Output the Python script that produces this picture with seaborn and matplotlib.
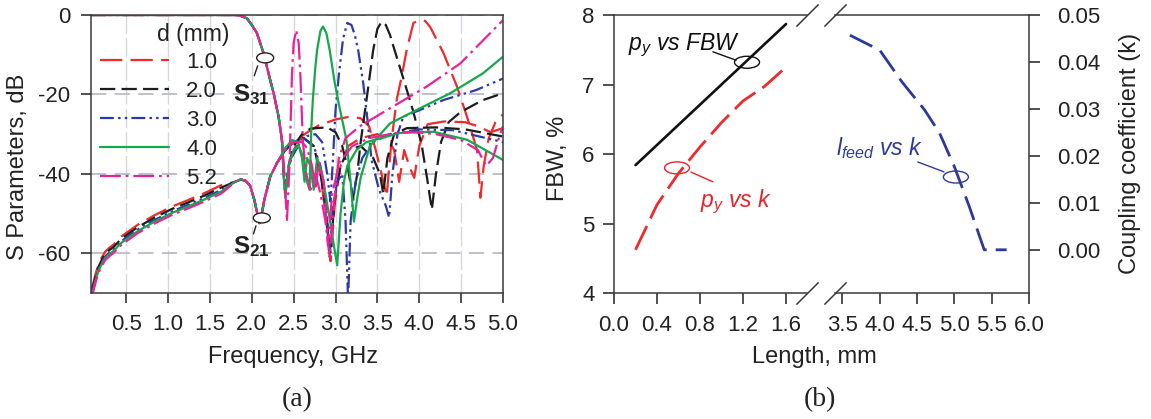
import matplotlib
matplotlib.use('Agg')
import matplotlib.pyplot as plt
import matplotlib.transforms as mtransforms
from matplotlib.patches import Ellipse
import seaborn as sns

sns.set_theme(style='ticks')
plt.rcParams['font.family'] = ['Liberation Sans', 'DejaVu Sans']
plt.rcParams['axes.unicode_minus'] = False
plt.rcParams['lines.scale_dashes'] = False
plt.rcParams['mathtext.fontset'] = 'custom'
plt.rcParams['mathtext.rm'] = 'Liberation Sans'
plt.rcParams['mathtext.it'] = 'Liberation Sans:italic'
plt.rcParams['mathtext.bf'] = 'Liberation Sans:bold'

# ---------------- data, panel (a) ----------------
d_values = ['1.0', '2.0', '3.0', '4.0', '5.2']

# S31: shared part (all d lie on top of each other)
s31_common_f = [0.08, 1.0, 1.80, 1.86, 1.94, 2.00, 2.06, 2.10, 2.14, 2.18, 2.22, 2.26, 2.32, 2.36]
s31_common_db = [0, 0, 0, -0.2, -0.8, -2.5, -4.5, -7.0, -9.6, -13.0, -16.4, -19.6, -25.6, -31.4]

s31_tail_10 = [(2.38, -40), (2.40, -45), (2.44, -38), (2.50, -34), (2.60, -30.5), (2.70, -29), (2.80, -27.8),
               (3.00, -26.3), (3.17, -25.6), (3.30, -26), (3.40, -28), (3.48, -34), (3.55, -40), (3.61, -45.7),
               (3.67, -31.4), (3.73, -21.4), (3.79, -15.5), (3.85, -8.8), (3.93, -2), (4.01, -1.2), (4.07, -1.5),
               (4.13, -3), (4.29, -9.6), (4.45, -18), (4.57, -25.6), (4.69, -34), (4.73, -46), (4.77, -38),
               (4.83, -31), (4.91, -27), (5.0, -25)]
s31_tail_20 = [(2.38, -40), (2.40, -45), (2.44, -38), (2.50, -33), (2.60, -30), (2.70, -28.6), (2.90, -28.3),
               (3.00, -29.5), (3.08, -33), (3.15, -39), (3.21, -46), (3.26, -40), (3.30, -32), (3.37, -21.4),
               (3.45, -8.8), (3.50, -3.5), (3.55, -1.7), (3.60, -2.5), (3.65, -5), (3.69, -7.8), (3.81, -16),
               (3.93, -24.4), (4.03, -32.8), (4.10, -42), (4.15, -49), (4.20, -40), (4.26, -32), (4.35, -27),
               (4.49, -24.5), (4.75, -21.5), (5.0, -19.7)]
s31_tail_30 = [(2.38, -40), (2.40, -45), (2.44, -38), (2.50, -35), (2.58, -32), (2.66, -30.5), (2.76, -30),
               (2.84, -32), (2.90, -40), (2.94, -47), (2.97, -36), (3.00, -24), (3.04, -15), (3.09, -6),
               (3.14, -2), (3.19, -2.5), (3.23, -5), (3.27, -8.8), (3.33, -17), (3.38, -26), (3.43, -36.5),
               (3.52, -44), (3.60, -48), (3.64, -51), (3.68, -40), (3.74, -30), (3.81, -25.6), (4.0, -24),
               (4.29, -21.4), (4.68, -18.9), (5.0, -16)]
s31_tail_40 = [(2.38, -40), (2.40, -46), (2.44, -38), (2.50, -34), (2.56, -33), (2.62, -36), (2.66, -42),
               (2.69, -44), (2.71, -29), (2.73, -21), (2.76, -13), (2.78, -8.8), (2.82, -4), (2.85, -2.9),
               (2.89, -4.5), (2.93, -8.8), (2.99, -17), (3.05, -23.5), (3.13, -31.4), (3.18, -42), (3.22, -52),
               (3.26, -46), (3.30, -41), (3.41, -33), (3.65, -27.3), (3.97, -23.9), (4.37, -19.7),
               (4.76, -14.7), (5.0, -10.5)]
s31_tail_52 = [(2.39, -40), (2.42, -52), (2.45, -38), (2.48, -15), (2.50, -7), (2.53, -3.8), (2.56, -7),
               (2.58, -15), (2.61, -32), (2.65, -40), (2.70, -44), (2.76, -40), (2.82, -45), (2.88, -52),
               (2.93, -61), (2.98, -48), (3.04, -36), (3.12, -31), (3.29, -28), (3.69, -23), (4.09, -18),
               (4.49, -12.2), (5.0, -1.3)]

# S21: shared low-frequency part, small vertical spread per d below 1.7 GHz
s21_common_f = [0.09, 0.11, 0.14, 0.17, 0.21, 0.25, 0.30, 0.35, 0.44, 0.64, 0.84, 1.04, 1.24, 1.44, 1.64,
                1.80, 1.87, 1.93, 1.98, 2.03, 2.09, 2.12, 2.15]
s21_common_db = [-70, -68.5, -66, -64, -62.2, -60.8, -59.8, -59.0, -57, -54, -51.6, -49.5, -47.8, -46, -44,
                 -42, -41.4, -41.8, -43, -46.5, -52.4, -50, -46.5]
s21_low_spread = [1.2, 0.6, 0.0, -0.4, -0.9]

s21_tail_10 = [(2.22, -40.7), (2.30, -37.3), (2.40, -34), (2.50, -32), (2.62, -31), (2.74, -33), (2.82, -40),
               (2.88, -50), (2.94, -62), (2.99, -48), (3.06, -38), (3.15, -33), (3.30, -31), (3.50, -30),
               (3.62, -31), (3.70, -34), (3.76, -42), (3.82, -34), (3.88, -38), (3.94, -41), (4.00, -33),
               (4.10, -27.5), (4.30, -26.8), (4.55, -27), (4.70, -28), (4.85, -29.5), (5.0, -28.5)]
s21_tail_20 = [(2.22, -40.7), (2.30, -37.3), (2.40, -34), (2.50, -32), (2.62, -31), (2.74, -33), (2.82, -40),
               (2.88, -48), (2.94, -60), (2.99, -46), (3.06, -38), (3.15, -34), (3.30, -33), (3.45, -36),
               (3.53, -40), (3.57, -45), (3.62, -36), (3.70, -30), (3.85, -28.5), (4.2, -28.3), (4.55, -28.8),
               (4.8, -29.8), (5.0, -30.6)]
s21_tail_30 = [(2.22, -40.7), (2.30, -37.3), (2.40, -34), (2.50, -32), (2.62, -31), (2.74, -33), (2.82, -38),
               (2.88, -46), (2.93, -60), (2.97, -48), (3.02, -42), (3.08, -40), (3.12, -52), (3.15, -72),
               (3.18, -52), (3.24, -42), (3.32, -36), (3.45, -32), (3.65, -30), (4.0, -28.8), (4.4, -29),
               (4.7, -30.5), (5.0, -32)]
s21_tail_40 = [(2.22, -40.7), (2.30, -37.3), (2.40, -33.5), (2.48, -31.5), (2.55, -32), (2.60, -36),
               (2.63, -42), (2.66, -36), (2.70, -38), (2.74, -44), (2.78, -36), (2.84, -40), (2.92, -50),
               (2.98, -58), (3.02, -63), (3.06, -50), (3.10, -42), (3.14, -38), (3.25, -34), (3.37, -32),
               (3.77, -29.7), (4.17, -29.4), (4.57, -31.4), (5.0, -36.5)]
s21_tail_52 = [(2.22, -40.7), (2.30, -37.3), (2.40, -34), (2.50, -32), (2.60, -32), (2.66, -33.5),
               (2.72, -38), (2.76, -44), (2.80, -37), (2.86, -42), (2.91, -58), (2.96, -45), (3.05, -37),
               (3.2, -33), (3.4, -31), (3.7, -29.8), (3.9, -29.4), (4.2, -30), (4.5, -31.5), (4.7, -34),
               (4.8, -38), (4.88, -36), (4.95, -31), (5.0, -28)]

s31_tails = [s31_tail_10, s31_tail_20, s31_tail_30, s31_tail_40, s31_tail_52]
s21_tails = [s21_tail_10, s21_tail_20, s21_tail_30, s21_tail_40, s21_tail_52]

# ---------------- data, panel (b) ----------------
py_len = [0.2, 0.4, 0.6, 0.8, 1.0, 1.2, 1.4, 1.6]
py_fbw = [5.84, 6.13, 6.42, 6.71, 7.00, 7.29, 7.58, 7.87]
py_k = [0.0, 0.0096, 0.0163, 0.0219, 0.0271, 0.0317, 0.0348, 0.0389]
lfeed_len = [3.6, 4.0, 4.3, 4.6, 4.8, 5.0, 5.2, 5.4, 5.7]
lfeed_k = [0.0457, 0.0425, 0.0357, 0.0298, 0.0249, 0.0177, 0.0092, 0.0, 0.0]

# ---------------- styles ----------------
colors = ['#ee2a2a', '#1c1c1c', '#2b3aa6', '#16a84a', '#e8239a']
styles = [(0, (16, 6)), (0, (11, 4.5)), (0, (10, 3, 1.8, 3, 1.8, 3)), '-', (0, (15, 3.5, 2, 3.5))]
frame = '#3a3a3a'
txt = '#222222'
W, H = 1151, 419


def box(l, t, r, b):
    return [l / W, 1 - b / H, (r - l) / W, (b - t) / H]


def ring(ax, x, y, w, h, ec, fc='none'):
    tr = fig.dpi_scale_trans + mtransforms.ScaledTranslation(x, y, ax.transData)
    ax.add_patch(Ellipse((0, 0), w / 100, h / 100, transform=tr, ec=ec, fc=fc,
                         lw=1.0, zorder=6, clip_on=False))


def leader(ax, p0, p1, c):
    ax.annotate('', xy=p0, xytext=p1, arrowprops=dict(arrowstyle='-', color=c, lw=1.0,
                                                      shrinkA=0, shrinkB=0))


fig = plt.figure(figsize=(W / 100, H / 100), dpi=100)

# ================= panel (a) =================
ax = fig.add_axes(box(91, 15, 503, 293))
handles = []
for i, d in enumerate(d_values):
    f21 = s21_common_f + [p[0] for p in s21_tails[i]]
    db21 = [v + (s21_low_spread[i] if f < 1.7 else 0) for f, v in zip(s21_common_f, s21_common_db)]
    db21 += [p[1] for p in s21_tails[i]]
    sns.lineplot(x=f21, y=db21, ax=ax, color=colors[i], lw=1.6, linestyle=styles[i],
                 estimator=None, sort=False, legend=False)
    f31 = s31_common_f + [p[0] for p in s31_tails[i]]
    db31 = s31_common_db + [p[1] for p in s31_tails[i]]
    sns.lineplot(x=f31, y=db31, ax=ax, color=colors[i], lw=1.6, linestyle=styles[i],
                 estimator=None, sort=False, legend=False)
    ax.lines[-1].set_label(d)
    handles.append(ax.lines[-1])

ax.set_xticks([0.5, 1.0, 1.5, 2.0, 2.5, 3.0, 3.5, 4.0, 4.5, 5.0])
ax.set_xticklabels(['0.5', '1.0', '1.5', '2.0', '2.5', '3.0', '3.5', '4.0', '4.5', '5.0'])
ax.set_yticks([0, -20, -40, -60])
ax.set_yticklabels(['0', '-20', '-40', '-60'])
ax.xaxis.grid(True, color='#d6d7dc', lw=1.0, ls=(0, (14, 3)))
ax.yaxis.grid(True, color='#b9bcc6', lw=1.3, ls=(0, (11, 6)))
ax.set_axisbelow(True)
ax.tick_params(direction='out', length=7, width=1.1, pad=8, labelsize=16, colors=txt)
for s in ax.spines.values():
    s.set_color(frame)
    s.set_linewidth(1.1)

leg = ax.legend(handles=handles, loc='upper left', bbox_to_anchor=(0.022, 0.866), frameon=False,
                fontsize=16, handlelength=3.1, handletextpad=0.77, labelspacing=0.36,
                borderpad=0, borderaxespad=0)
for t in leg.get_texts():
    t.set_color(txt)
ax.text(0.87, -5.0, 'd (mm)', fontsize=16.5, color=txt, va='center', ha='left')

ring(ax, 2.16, -10.8, 17, 10, '#222222', 'white')
leader(ax, (2.07, -12.8), (2.03, -15.3), '#222222')
ax.text(1.77, -21.6, r'$\mathbf{S_{31}}$', fontsize=17.5, color=txt, va='baseline')
ring(ax, 2.12, -51.1, 17, 10, '#222222', 'white')
leader(ax, (2.05, -53.1), (2.02, -55.1), '#222222')
ax.text(1.77, -60.0, r'$\mathbf{S_{21}}$', fontsize=17.5, color=txt, va='baseline')

fig.text(18 / W, 1 - 167 / H, 'S Parameters, dB', rotation=90, ha='center', va='center',
         fontsize=17, color=txt)
fig.text(293 / W, 1 - 357 / H, 'Frequency, GHz', ha='center', va='center', fontsize=17, color=txt)
fig.text(297 / W, 1 - 400 / H, '(a)', ha='center', va='center', fontsize=20, color=txt,
         family=['Liberation Serif', 'DejaVu Serif'])

# ================= panel (b) =================
ax1 = fig.add_axes(box(614, 15, 807, 293))
ax2 = fig.add_axes(box(835, 15, 1029, 293))
ax1k = ax1.twinx()

sns.lineplot(x=py_len, y=py_fbw, ax=ax1, color='#111111', lw=1.9, estimator=None, sort=False, legend=False)
sns.lineplot(x=py_len, y=py_k, ax=ax1k, color='#ee2b2b', lw=2.0, linestyle=(0, (19, 6)),
             estimator=None, sort=False, legend=False)
sns.lineplot(x=lfeed_len, y=lfeed_k, ax=ax2, color='#2b3a9a', lw=2.0, linestyle=(0, (18, 6.5)),
             estimator=None, sort=False, legend=False)

ax1.set_xticks([0.0, 0.4, 0.8, 1.2, 1.6])
ax1.set_xticklabels(['0.0', '0.4', '0.8', '1.2', '1.6'])
ax1.set_yticks([4, 5, 6, 7, 8])
ax2.set_xticks([3.5, 4.0, 4.5, 5.0, 5.5, 6.0])
ax2.set_xticklabels(['3.5', '4.0', '4.5', '5.0', '5.5', '6.0'])
ax2.set_yticks([0.0, 0.01, 0.02, 0.03, 0.04, 0.05])
ax2.set_yticklabels(['0.00', '0.01', '0.02', '0.03', '0.04', '0.05'])
ax2.yaxis.tick_right()
ax1k.axis('off')

ax1.spines['right'].set_visible(False)
ax2.spines['left'].set_visible(False)
for a in (ax1, ax2):
    for s in a.spines.values():
        s.set_color(frame)
        s.set_linewidth(1.1)
    a.tick_params(direction='out', length=8, width=1.1, labelsize=16, colors=txt)
ax1.tick_params(axis='y', pad=6)
ax1.tick_params(axis='x', pad=8)
ax2.tick_params(axis='x', pad=8)
ax2.tick_params(axis='y', pad=12, left=False, right=True)

kw = dict(marker=[(-1, -1), (1, 1)], markersize=16, linestyle='none', color=frame, mec=frame,
          mew=1.1, clip_on=False)
ax1.plot([1, 1], [0, 1], transform=ax1.transAxes, **kw)
ax2.plot([0, 0], [0, 1], transform=ax2.transAxes, **kw)

ax1.text(0.13, 7.50, r'$p_y$ vs FBW', fontsize=16.5, style='italic', color='#111111', va='baseline')
ring(ax1, 1.237, 7.32, 25, 12, '#111111')
leader(ax1, (0.92, 7.47), (1.135, 7.35), '#111111')
ax1.text(0.80, 5.24, r'$p_y$ vs k', fontsize=16.5, style='italic', color='#e8242a', va='baseline')
ring(ax1, 0.586, 5.80, 25, 12, '#e8242a')
leader(ax1, (0.716, 5.74), (0.92, 5.60), '#e8242a')
ax2.text(3.42, 0.0202, r'$l_{feed}$ vs k', fontsize=16.5, style='italic', color='#2d3c9c', va='baseline')
ring(ax2, 5.02, 0.0155, 25, 12, '#2d3c9c')
leader(ax2, (4.51, 0.0187), (4.86, 0.0166), '#2d3c9c')

# limits last, after all patches are in
ax.set_xlim(0.08, 5.0)
ax.set_ylim(-70, 0)
ax1.set_xlim(0, 1.795)
ax1.set_ylim(4, 8)
ax1k.set_ylim(-0.0092, 0.05)
ax2.set_xlim(3.40, 6.0)
ax2.set_ylim(-0.0092, 0.05)

fig.text(558 / W, 1 - 158 / H, 'FBW, %', rotation=90, ha='center', va='center', fontsize=17, color=txt)
fig.text(1130 / W, 1 - 153 / H, 'Coupling coefficient (k)', rotation=90, ha='center', va='center',
         fontsize=17, color=txt)
fig.text(814 / W, 1 - 357 / H, 'Length, mm', ha='center', va='center', fontsize=17, color=txt)
fig.text(820 / W, 1 - 400 / H, '(b)', ha='center', va='center', fontsize=20, color=txt,
         family=['Liberation Serif', 'DejaVu Serif'])

fig.savefig('out.png', dpi=100)
